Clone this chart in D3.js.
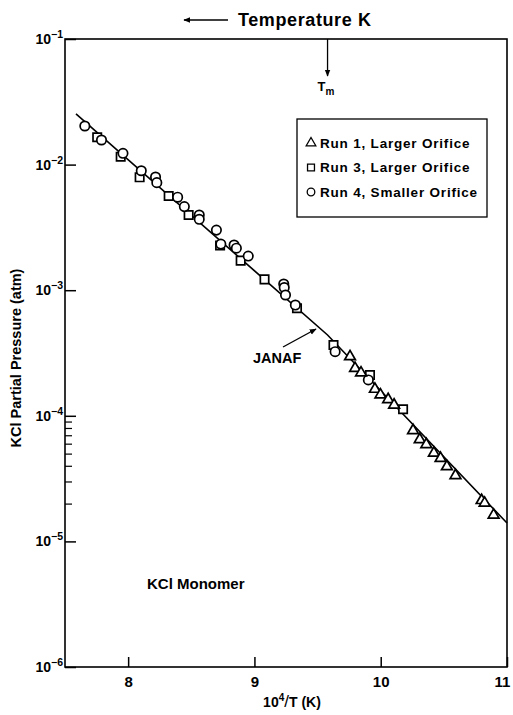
<!DOCTYPE html>
<html>
<head>
<meta charset="utf-8">
<script src="https://cdn.jsdelivr.net/npm/d3@7"></script>
<style>
  body { margin: 0; background: #fff; }
  svg { display: block; font-family: "Liberation Sans", Arial, sans-serif; font-weight: bold; }
</style>
</head>
<body>
<div id="chart"></div>
<script>
// Run 1, Larger Orifice (triangles)
const run1X = [9.757, 9.797, 9.844, 9.954, 9.998, 10.059, 10.106, 10.256, 10.309, 10.361, 10.421, 10.474, 10.524, 10.592, 10.799, 10.823, 10.894];
const run1P = [2.96e-4, 2.39e-4, 2.20e-4, 1.63e-4, 1.47e-4, 1.35e-4, 1.22e-4, 7.64e-5, 6.48e-5, 5.91e-5, 5.06e-5, 4.59e-5, 3.94e-5, 3.35e-5, 2.12e-5, 2.02e-5, 1.62e-5];

// Run 3, Larger Orifice (squares)
const run3X = [7.755, 7.941, 8.091, 8.321, 8.479, 8.728, 8.891, 9.080, 9.337, 9.626, 9.915, 10.177];
const run3P = [1.65e-2, 1.156e-2, 7.92e-3, 5.62e-3, 3.97e-3, 2.27e-3, 1.72e-3, 1.22e-3, 7.18e-4, 3.66e-4, 2.11e-4, 1.127e-4];

// Run 4, Smaller Orifice (circles)
const run4X = [7.657, 7.789, 7.959, 8.104, 8.217, 8.227, 8.392, 8.445, 8.563, 8.563, 8.699, 8.734, 8.839, 8.857, 8.951, 9.232, 9.236, 9.246, 9.324, 9.639, 9.902];
const run4P = [2.03e-2, 1.57e-2, 1.23e-2, 8.93e-3, 7.96e-3, 7.18e-3, 5.50e-3, 4.63e-3, 3.97e-3, 3.67e-3, 3.01e-3, 2.33e-3, 2.29e-3, 2.16e-3, 1.87e-3, 1.12e-3, 1.05e-3, 9.16e-4, 7.62e-4, 3.24e-4, 1.93e-4];

// JANAF curve (kink at the melting point)
const janafX = [7.587, 9.579, 11.0];
const janafP = [2.53e-2, 4.40e-4, 1.40e-5];

const xTicks = [8, 9, 10, 11];
const yTickExps = [-1, -2, -3, -4, -5, -6];
const yMinorTicks = [2e-5, 3e-5, 4e-5, 5e-5, 6e-5, 7e-5, 8e-5, 9e-5];
const tMeltX = 9.579;

const legendNames = ["Run 1, Larger Orifice", "Run 3, Larger Orifice", "Run 4, Smaller Orifice"];
const legendShapes = ["triangle", "square", "circle"];

// geometry
let margin = { top: 39, right: 6, bottom: 48, left: 65 },
    W = 513, H = 715,
    x0 = margin.left, x1 = W - margin.right,
    y0 = margin.top, y1 = H - margin.bottom;

const svg = d3.select("#chart").append("svg")
    .attr("width", W)
    .attr("height", H);

const defs = svg.append("defs");
defs.append("marker")
    .attr("id", "head")
    .attr("viewBox", "0 0 10 10")
    .attr("refX", 9).attr("refY", 5)
    .attr("markerWidth", 7).attr("markerHeight", 7)
    .attr("markerUnits", "userSpaceOnUse")
    .attr("orient", "auto")
    .append("path")
    .attr("d", "M0,1 L10,5 L0,9 Z")
    .attr("fill", "#000");

let xScale = d3.scaleLinear().domain([7.5, 11]).range([x0, x1]);
let yScale = d3.scaleLog().domain([1e-6, 1e-1]).range([y1, y0]);

// frame
svg.append("rect")
    .attr("x", x0).attr("y", y0)
    .attr("width", x1 - x0).attr("height", y1 - y0)
    .attr("fill", "none")
    .attr("stroke", "#000")
    .attr("stroke-width", 1.6);

// x axis
let xAxis = svg.append("g")
    .attr("transform", "translate(0," + y1 + ")")
    .call(d3.axisBottom(xScale).tickValues(xTicks).tickSize(-10).tickPadding(9).tickFormat(d3.format("d")));
xAxis.select(".domain").remove();
xAxis.selectAll("line").attr("stroke-width", 1.5);
xAxis.selectAll("text")
    .attr("font-size", "15px")
    .attr("font-family", "Liberation Sans, Arial, sans-serif")
    .attr("font-weight", "bold")
    .attr("dx", d => d === 11 ? -5 : 0);

// y axis
let yAxis = svg.append("g")
    .attr("transform", "translate(" + x0 + ",0)")
    .call(d3.axisLeft(yScale).tickValues(yTickExps.map(e => Math.pow(10, e))).tickSize(-11).tickFormat(() => ""));
yAxis.select(".domain").remove();
yAxis.selectAll("line").attr("stroke-width", 1.5);

let yMinor = svg.append("g")
    .attr("transform", "translate(" + x0 + ",0)")
    .call(d3.axisLeft(yScale).tickValues(yMinorTicks).tickSize(-7).tickFormat(() => ""));
yMinor.select(".domain").remove();
yMinor.selectAll("line").attr("stroke-width", 1.2);

let yLabels = svg.append("g").selectAll("text")
    .data(yTickExps)
    .enter()
    .append("text")
    .attr("x", x0 - 2)
    .attr("y", d => yScale(Math.pow(10, d)) + 5)
    .attr("text-anchor", "end")
    .attr("font-size", "14px");
yLabels.append("tspan").text("10");
yLabels.append("tspan")
    .attr("dy", -6)
    .attr("font-size", "10.5px")
    .text(d => "\u2212" + Math.abs(d));

// axis titles
svg.append("text")
    .attr("transform", "translate(21," + ((y0 + y1) / 2 + 5) + ") rotate(-90)")
    .attr("text-anchor", "middle")
    .attr("font-size", "14.5px")
    .text("KCl Partial Pressure (atm)");

let xTitle = svg.append("text")
    .attr("x", 292).attr("y", 707)
    .attr("text-anchor", "middle")
    .attr("font-size", "14px");
xTitle.append("tspan").text("10");
xTitle.append("tspan").attr("dy", -6).attr("font-size", "10px").text("4");
xTitle.append("tspan").attr("dy", 6).attr("font-size", "17px").attr("font-weight", "normal").text("/");
xTitle.append("tspan").text("T (K)");

// top title with arrow
svg.append("line")
    .attr("x1", 228).attr("y1", 20).attr("x2", 184).attr("y2", 20)
    .attr("stroke", "#000").attr("stroke-width", 1.3)
    .attr("marker-end", "url(#head)");
svg.append("text")
    .attr("x", 238).attr("y", 26)
    .attr("font-size", "18px")
    .attr("letter-spacing", "0.6px")
    .text("Temperature K");

// melting point arrow
svg.append("line")
    .attr("x1", xScale(tMeltX)).attr("y1", y0)
    .attr("x2", xScale(tMeltX)).attr("y2", y0 + 37)
    .attr("stroke", "#000").attr("stroke-width", 1.3)
    .attr("marker-end", "url(#head)");
let tm = svg.append("text")
    .attr("x", xScale(tMeltX) - 10).attr("y", y0 + 52)
    .attr("font-size", "13px");
tm.append("tspan").text("T");
tm.append("tspan").attr("dy", 4).attr("font-size", "10px").text("m");

// JANAF line
let lineGenerator = d3.line()
    .x(function (d) { return xScale(d.x); })
    .y(function (d) { return yScale(d.y); });
let janafData = janafX.map((x, i) => ({ x: x, y: janafP[i] }));
svg.append("path")
    .datum(janafData)
    .attr("d", lineGenerator)
    .attr("fill", "none")
    .attr("stroke", "#000")
    .attr("stroke-width", 1.6);

svg.append("line")
    .attr("x1", 283).attr("y1", 347).attr("x2", 316).attr("y2", 329)
    .attr("stroke", "#000").attr("stroke-width", 1.4)
    .attr("marker-end", "url(#head)");
svg.append("text")
    .attr("x", 253).attr("y", 363)
    .attr("font-size", "14.5px")
    .text("JANAF");

svg.append("text")
    .attr("x", 147).attr("y", 589)
    .attr("font-size", "15px")
    .text("KCl Monomer");

// markers
function drawMarkers(xs, ps, shape) {
    let data = xs.map((x, i) => ({ x: x, y: ps[i] }));
    let g = svg.append("g");
    if (shape === "circle") {
        g.selectAll("circle").data(data).enter().append("circle")
            .attr("cx", d => xScale(d.x))
            .attr("cy", d => yScale(d.y))
            .attr("r", 4.7);
    } else {
        let sym = d3.symbol()
            .type(shape === "square" ? d3.symbolSquare : d3.symbolTriangle)
            .size(shape === "square" ? 70 : 50);
        g.selectAll("path").data(data).enter().append("path")
            .attr("transform", d => "translate(" + xScale(d.x) + "," + yScale(d.y) + ")")
            .attr("d", sym);
    }
    g.selectAll("*")
        .attr("fill", "#fff")
        .attr("stroke", "#000")
        .attr("stroke-width", 1.7);
}
drawMarkers(run3X, run3P, "square");
drawMarkers(run4X, run4P, "circle");
drawMarkers(run1X, run1P, "triangle");

// legend
let legend = svg.append("g");
legend.append("rect")
    .attr("x", 297).attr("y", 119)
    .attr("width", 190).attr("height", 98)
    .attr("fill", "#fff")
    .attr("stroke", "#000")
    .attr("stroke-width", 1.3);
legendNames.forEach(function (name, i) {
    let cy = 143 + i * 24.5;
    let item = legend.append("g");
    if (legendShapes[i] === "circle") {
        item.append("circle").attr("cx", 311).attr("cy", cy).attr("r", 3.8);
    } else {
        item.append("path")
            .attr("transform", "translate(311," + cy + ")")
            .attr("d", d3.symbol().type(legendShapes[i] === "square" ? d3.symbolSquare : d3.symbolTriangle).size(legendShapes[i] === "square" ? 48 : 40));
    }
    item.selectAll("*").attr("fill", "#fff").attr("stroke", "#000").attr("stroke-width", 1.3);
    item.append("text")
        .attr("x", 320).attr("y", cy + 4.5)
        .attr("font-size", "13.5px")
        .attr("letter-spacing", "0.8px")
        .text(name);
});
</script>
</body>
</html>
